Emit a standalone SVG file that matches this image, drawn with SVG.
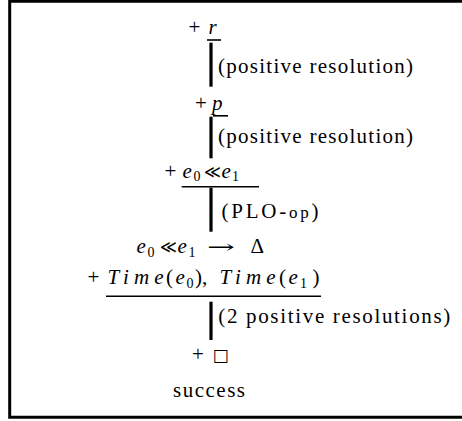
<svg xmlns="http://www.w3.org/2000/svg" width="462" height="421" viewBox="0 0 462 421">
<style>
text{font-family:"Liberation Serif","DejaVu Serif",serif;font-size:21px;fill:#000}
.i{font-style:italic}
.s{font-size:14px}
.sym{font-family:"DejaVu Serif",serif;font-size:18px}
.ul{stroke:#000;stroke-width:1.6}
.bar{stroke:#000;stroke-width:3.2}
.frame{fill:none;stroke:#000;stroke-width:3}
</style>
<rect width="462" height="421" fill="#fff"/>
<path class="frame" d="M463 1.3 H9.7 V417.2 H463"/>
<g id="n-r">
<text x="188.5" y="34">+</text><text class="i" x="208.5" y="34">r</text>
<line class="ul" x1="207" y1="40" x2="221" y2="40"/>
</g>
<g id="n-p">
<text x="195" y="110">+</text><text class="i" x="212" y="110">p</text>
<line class="ul" x1="213" y1="115.8" x2="228" y2="115.8"/>
</g>
<g id="n-e0e1">
<text x="164.5" y="177.5">+</text>
<text class="i" x="182.5" y="177.5">e</text>
<text class="s" x="193.5" y="181">0</text>
<text class="sym" x="203.5" y="177.5" textLength="17" lengthAdjust="spacingAndGlyphs">≪</text>
<text class="i" x="221.5" y="177.5">e</text>
<text class="s" x="232" y="181">1</text>
<line class="ul" x1="181.7" y1="186.8" x2="259" y2="186.8"/>
</g>
<g id="n-delta">
<text class="i" x="136.5" y="253.3">e</text>
<text class="s" x="147.5" y="256.8">0</text>
<text class="sym" x="159.5" y="253.3" textLength="17" lengthAdjust="spacingAndGlyphs">≪</text>
<text class="i" x="177.5" y="253.3">e</text>
<text class="s" x="188.5" y="256.8">1</text>
<text class="sym" x="207" y="253.3" textLength="28" lengthAdjust="spacingAndGlyphs">→</text>
<text x="250.5" y="253.3">Δ</text>
</g>
<g id="n-time">
<text x="87.5" y="284">+</text>
<text class="i" x="107.5" y="284" font-size="23" textLength="56" lengthAdjust="spacing">Time</text>
<text x="166" y="284">(</text>
<text class="i" x="175.5" y="284">e</text>
<text class="s" x="186.5" y="287.5">0</text>
<text x="195" y="284">),</text>
<text class="i" x="219.5" y="284" font-size="23" textLength="56" lengthAdjust="spacing">Time</text>
<text x="279" y="284">(</text>
<text class="i" x="288.5" y="284">e</text>
<text class="s" x="300" y="287.5">1</text>
<text x="312.5" y="284">)</text>
<line class="ul" x1="106" y1="296.3" x2="321" y2="296.3"/>
</g>
<g id="n-box">
<text x="192" y="361">+</text><text x="212.5" y="361" style="font-family:'DejaVu Sans',sans-serif;font-size:17px">□</text>
</g>
<g id="n-success">
<text x="173" y="396.7" textLength="72" lengthAdjust="spacing">success</text>
</g>
<g id="connectors">
<line class="bar" x1="211" y1="42.7" x2="211" y2="86.7"/>
<text x="218" y="72.7" textLength="195" lengthAdjust="spacing">(positive resolution)</text>
<line class="bar" x1="211" y1="116.7" x2="211" y2="158.3"/>
<text x="218" y="143" textLength="195" lengthAdjust="spacing">(positive resolution)</text>
<line class="bar" x1="211" y1="187.7" x2="211" y2="231.7"/>
<text x="221.5" y="218.3" textLength="97" lengthAdjust="spacing">(PLO-<tspan font-size="17">op</tspan>)</text>
<line class="bar" x1="211" y1="301.7" x2="211" y2="340"/>
<text x="218.3" y="323.4" textLength="232" lengthAdjust="spacing">(2 positive resolutions)</text>
</g>
</svg>
